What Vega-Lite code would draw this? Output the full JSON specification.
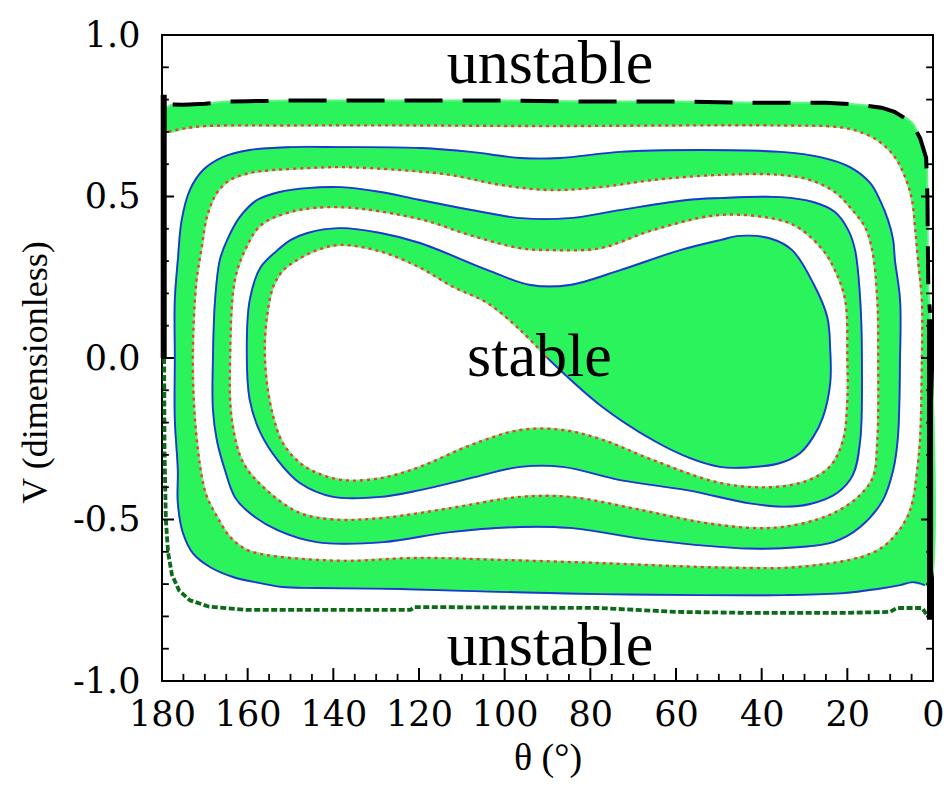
{
"$schema":"https://vega.github.io/schema/vega-lite/v6.json",
"width":771,"height":646,
"autosize":{"type":"none"},
"padding":{"left":162,"top":35,"right":14,"bottom":107},
"config":{"view":{"stroke":"black","strokeWidth":2},"axis":{"domain":false,"grid":false,"ticks":false,"labelColor":"black","titleColor":"black"}},
"datasets":{
"ticks":[
{"ax":"x","major":1,"tick":20},{"ax":"x","major":1,"tick":40},{"ax":"x","major":1,"tick":60},{"ax":"x","major":1,"tick":80},{"ax":"x","major":1,"tick":100},{"ax":"x","major":1,"tick":120},{"ax":"x","major":1,"tick":140},{"ax":"x","major":1,"tick":160},
{"ax":"x","major":0,"tick":5},{"ax":"x","major":0,"tick":10},{"ax":"x","major":0,"tick":15},{"ax":"x","major":0,"tick":25},{"ax":"x","major":0,"tick":30},{"ax":"x","major":0,"tick":35},{"ax":"x","major":0,"tick":45},{"ax":"x","major":0,"tick":50},{"ax":"x","major":0,"tick":55},{"ax":"x","major":0,"tick":65},{"ax":"x","major":0,"tick":70},{"ax":"x","major":0,"tick":75},{"ax":"x","major":0,"tick":85},{"ax":"x","major":0,"tick":90},{"ax":"x","major":0,"tick":95},{"ax":"x","major":0,"tick":105},{"ax":"x","major":0,"tick":110},{"ax":"x","major":0,"tick":115},{"ax":"x","major":0,"tick":125},{"ax":"x","major":0,"tick":130},{"ax":"x","major":0,"tick":135},{"ax":"x","major":0,"tick":145},{"ax":"x","major":0,"tick":150},{"ax":"x","major":0,"tick":155},{"ax":"x","major":0,"tick":165},{"ax":"x","major":0,"tick":170},{"ax":"x","major":0,"tick":175},
{"ax":"y","major":1,"tick":-0.5},{"ax":"y","major":1,"tick":0},{"ax":"y","major":1,"tick":0.5},
{"ax":"y","major":0,"tick":-0.9},{"ax":"y","major":0,"tick":-0.8},{"ax":"y","major":0,"tick":-0.7},{"ax":"y","major":0,"tick":-0.6},{"ax":"y","major":0,"tick":-0.4},{"ax":"y","major":0,"tick":-0.3},{"ax":"y","major":0,"tick":-0.2},{"ax":"y","major":0,"tick":-0.1},{"ax":"y","major":0,"tick":0.1},{"ax":"y","major":0,"tick":0.2},{"ax":"y","major":0,"tick":0.3},{"ax":"y","major":0,"tick":0.4},{"ax":"y","major":0,"tick":0.6},{"ax":"y","major":0,"tick":0.7},{"ax":"y","major":0,"tick":0.8},{"ax":"y","major":0,"tick":0.9}
],
"curves":[
{"s":"edge","k":-1,"t":179.5,"v":0.77},
{"s":"top","k":0,"t":177.5,"v":0.785},{"s":"top","k":1,"t":175,"v":0.784},{"s":"top","k":2,"t":170,"v":0.787},{"s":"top","k":3,"t":165,"v":0.794},{"s":"top","k":4,"t":160,"v":0.795},{"s":"top","k":5,"t":150,"v":0.797},{"s":"top","k":6,"t":140,"v":0.797},{"s":"top","k":7,"t":120,"v":0.797},{"s":"top","k":8,"t":100,"v":0.797},{"s":"top","k":9,"t":80,"v":0.794},{"s":"top","k":10,"t":60,"v":0.794},{"s":"top","k":11,"t":40,"v":0.79},{"s":"top","k":12,"t":25,"v":0.79},{"s":"top","k":13,"t":18,"v":0.785},{"s":"top","k":14,"t":12,"v":0.775},{"s":"top","k":15,"t":9,"v":0.762},{"s":"top","k":16,"t":5,"v":0.73},{"s":"top","k":17,"t":3,"v":0.68},{"s":"top","k":18,"t":1.6,"v":0.62},{"s":"top","k":19,"t":1.3,"v":0.5},{"s":"top","k":20,"t":1.2,"v":0.35},{"s":"top","k":21,"t":1.1,"v":0.22},{"s":"top","k":22,"t":0.7,"v":0.14},
{"s":"edge","k":999,"t":0.7,"v":-0.7},
{"s":"B","k":1000,"t":1.9,"v":-0.703},{"s":"B","k":1001,"t":4.7,"v":-0.694},{"s":"B","k":1002,"t":7.7,"v":-0.703},{"s":"B","k":1003,"t":13,"v":-0.715},{"s":"B","k":1004,"t":21,"v":-0.728},{"s":"B","k":1005,"t":35,"v":-0.734},{"s":"B","k":1006,"t":54.4,"v":-0.734},{"s":"B","k":1007,"t":77.7,"v":-0.731},{"s":"B","k":1008,"t":101,"v":-0.724},{"s":"B","k":1009,"t":124.4,"v":-0.715},{"s":"B","k":1010,"t":143.8,"v":-0.712},{"s":"B","k":1011,"t":151.8,"v":-0.709},{"s":"B","k":1012,"t":157.1,"v":-0.697},{"s":"B","k":1013,"t":163.4,"v":-0.678},{"s":"B","k":1014,"t":168.8,"v":-0.647},{"s":"B","k":1015,"t":172.8,"v":-0.604},{"s":"B","k":1016,"t":175.1,"v":-0.542},{"s":"B","k":1017,"t":176.3,"v":-0.449},{"s":"B","k":1018,"t":176.3,"v":-0.347},{"s":"B","k":1019,"t":177,"v":-0.19},{"s":"B","k":1020,"t":177,"v":0},{"s":"B","k":1021,"t":177,"v":0.18},{"s":"B","k":1022,"t":176.3,"v":0.303},{"s":"B","k":1023,"t":175.4,"v":0.427},{"s":"B","k":1024,"t":173.5,"v":0.52},{"s":"B","k":1025,"t":170.4,"v":0.582},{"s":"B","k":1026,"t":165.8,"v":0.622},{"s":"B","k":1027,"t":159.5,"v":0.644},{"s":"B","k":1028,"t":150,"v":0.653},{"s":"B","k":1029,"t":138.5,"v":0.653},{"s":"B","k":1030,"t":119.8,"v":0.65},{"s":"B","k":1031,"t":108,"v":0.638},{"s":"B","k":1032,"t":96.4,"v":0.619},{"s":"B","k":1033,"t":87,"v":0.619},{"s":"B","k":1034,"t":73,"v":0.638},{"s":"B","k":1035,"t":54.4,"v":0.644},{"s":"B","k":1036,"t":35.7,"v":0.638},{"s":"B","k":1037,"t":26.4,"v":0.622},{"s":"B","k":1038,"t":19.4,"v":0.591},{"s":"B","k":1039,"t":14.7,"v":0.542},{"s":"B","k":1040,"t":12.4,"v":0.489},{"s":"B","k":1041,"t":10.5,"v":0.427},{"s":"B","k":1042,"t":9.3,"v":0.365},{"s":"B","k":1043,"t":8.9,"v":0.303},{"s":"B","k":1044,"t":7.7,"v":0.18},{"s":"B","k":1045,"t":7.7,"v":0},{"s":"B","k":1046,"t":8.2,"v":-0.245},{"s":"B","k":1047,"t":9.3,"v":-0.347},{"s":"B","k":1048,"t":11.7,"v":-0.44},{"s":"B","k":1049,"t":17,"v":-0.523},{"s":"B","k":1050,"t":23.3,"v":-0.57},{"s":"B","k":1051,"t":31,"v":-0.585},{"s":"B","k":1052,"t":42.7,"v":-0.59},{"s":"B","k":1053,"t":66,"v":-0.563},{"s":"B","k":1054,"t":84.8,"v":-0.526},{"s":"B","k":1055,"t":96.4,"v":-0.523},{"s":"B","k":1056,"t":112.8,"v":-0.539},{"s":"B","k":1057,"t":128.4,"v":-0.57},{"s":"B","k":1058,"t":143.8,"v":-0.57},{"s":"B","k":1059,"t":153,"v":-0.533},{"s":"B","k":1060,"t":159.5,"v":-0.48},{"s":"B","k":1061,"t":163,"v":-0.43},{"s":"B","k":1062,"t":165.3,"v":-0.347},{"s":"B","k":1063,"t":167.2,"v":-0.254},{"s":"B","k":1064,"t":168.1,"v":-0.16},{"s":"B","k":1065,"t":168.1,"v":0},{"s":"B","k":1066,"t":167.6,"v":0.18},{"s":"B","k":1067,"t":166.5,"v":0.303},{"s":"B","k":1068,"t":164.8,"v":0.365},{"s":"B","k":1069,"t":161.8,"v":0.437},{"s":"B","k":1070,"t":157.8,"v":0.489},{"s":"B","k":1071,"t":152.5,"v":0.514},{"s":"B","k":1072,"t":146,"v":0.526},{"s":"B","k":1073,"t":138.5,"v":0.529},{"s":"B","k":1074,"t":129,"v":0.514},{"s":"B","k":1075,"t":119.8,"v":0.489},{"s":"B","k":1076,"t":104,"v":0.449},{"s":"B","k":1077,"t":96.4,"v":0.433},{"s":"B","k":1078,"t":84.8,"v":0.433},{"s":"B","k":1079,"t":73,"v":0.458},{"s":"B","k":1080,"t":57.4,"v":0.489},{"s":"B","k":1081,"t":49.7,"v":0.495},{"s":"B","k":1082,"t":35.7,"v":0.498},{"s":"B","k":1083,"t":28,"v":0.483},{"s":"B","k":1084,"t":22.9,"v":0.452},{"s":"B","k":1085,"t":19.8,"v":0.396},{"s":"B","k":1086,"t":18.2,"v":0.334},{"s":"B","k":1087,"t":17,"v":0.18},{"s":"B","k":1088,"t":16.6,"v":0},{"s":"B","k":1089,"t":17,"v":-0.254},{"s":"B","k":1090,"t":18.7,"v":-0.362},{"s":"B","k":1091,"t":22.4,"v":-0.418},{"s":"B","k":1092,"t":28.7,"v":-0.452},{"s":"B","k":1093,"t":35,"v":-0.46},{"s":"B","k":1094,"t":42.7,"v":-0.45},{"s":"B","k":1095,"t":57.4,"v":-0.409},{"s":"B","k":1096,"t":73,"v":-0.378},{"s":"B","k":1097,"t":86.4,"v":-0.337},{"s":"B","k":1098,"t":96.4,"v":-0.337},{"s":"B","k":1099,"t":108,"v":-0.372},{"s":"B","k":1100,"t":119.8,"v":-0.409},{"s":"B","k":1101,"t":129,"v":-0.43},{"s":"B","k":1102,"t":140,"v":-0.43},{"s":"B","k":1103,"t":147.8,"v":-0.387},{"s":"B","k":1104,"t":153,"v":-0.316},{"s":"B","k":1105,"t":157,"v":-0.232},{"s":"B","k":1106,"t":159.5,"v":-0.13},{"s":"B","k":1107,"t":160.2,"v":0.025},{"s":"B","k":1108,"t":159.5,"v":0.18},{"s":"B","k":1109,"t":157,"v":0.28},{"s":"B","k":1110,"t":153,"v":0.334},{"s":"B","k":1111,"t":150,"v":0.365},{"s":"B","k":1112,"t":146,"v":0.387},{"s":"B","k":1113,"t":138.5,"v":0.402},{"s":"B","k":1114,"t":129,"v":0.387},{"s":"B","k":1115,"t":119.8,"v":0.356},{"s":"B","k":1116,"t":104,"v":0.272},{"s":"B","k":1117,"t":94,"v":0.226},{"s":"B","k":1118,"t":84.8,"v":0.226},{"s":"B","k":1119,"t":73,"v":0.272},{"s":"B","k":1120,"t":59,"v":0.334},{"s":"B","k":1121,"t":49.7,"v":0.365},{"s":"B","k":1122,"t":45,"v":0.378},{"s":"B","k":1123,"t":38,"v":0.37},{"s":"B","k":1124,"t":32.9,"v":0.334},{"s":"B","k":1125,"t":28,"v":0.232},{"s":"B","k":1126,"t":24.7,"v":0.127},{"s":"B","k":1127,"t":24,"v":0.025},{"s":"B","k":1128,"t":24,"v":-0.077},{"s":"B","k":1129,"t":25.7,"v":-0.183},{"s":"B","k":1130,"t":28,"v":-0.245},{"s":"B","k":1131,"t":31,"v":-0.294},{"s":"B","k":1132,"t":35.7,"v":-0.325},{"s":"B","k":1133,"t":45,"v":-0.34},{"s":"B","k":1134,"t":49.7,"v":-0.337},{"s":"B","k":1135,"t":56.7,"v":-0.31},{"s":"B","k":1136,"t":65.4,"v":-0.254},{"s":"B","k":1137,"t":77.7,"v":-0.146},{"s":"B","k":1138,"t":90,"v":0},
{"s":"R","k":2000,"t":90,"v":0},{"s":"R","k":2001,"t":96.4,"v":0.087},{"s":"R","k":2002,"t":104,"v":0.17},{"s":"R","k":2003,"t":112,"v":0.22},{"s":"R","k":2004,"t":119.8,"v":0.28},{"s":"R","k":2005,"t":129,"v":0.33},{"s":"R","k":2006,"t":138.5,"v":0.35},{"s":"R","k":2007,"t":143.8,"v":0.334},{"s":"R","k":2008,"t":148.5,"v":0.303},{"s":"R","k":2009,"t":151.8,"v":0.27},{"s":"R","k":2010,"t":154,"v":0.222},{"s":"R","k":2011,"t":155.5,"v":0.127},{"s":"R","k":2012,"t":156,"v":0.025},{"s":"R","k":2013,"t":155.5,"v":-0.077},{"s":"R","k":2014,"t":154,"v":-0.183},{"s":"R","k":2015,"t":151.8,"v":-0.263},{"s":"R","k":2016,"t":147.8,"v":-0.325},{"s":"R","k":2017,"t":143.8,"v":-0.356},{"s":"R","k":2018,"t":137.8,"v":-0.378},{"s":"R","k":2019,"t":129,"v":-0.372},{"s":"R","k":2020,"t":119.8,"v":-0.337},{"s":"R","k":2021,"t":108,"v":-0.27},{"s":"R","k":2022,"t":96.4,"v":-0.223},{"s":"R","k":2023,"t":86.4,"v":-0.223},{"s":"R","k":2024,"t":77,"v":-0.254},{"s":"R","k":2025,"t":65.4,"v":-0.316},{"s":"R","k":2026,"t":49.7,"v":-0.387},{"s":"R","k":2027,"t":38,"v":-0.4},{"s":"R","k":2028,"t":29.4,"v":-0.38},{"s":"R","k":2029,"t":24,"v":-0.335},{"s":"R","k":2030,"t":21,"v":-0.254},{"s":"R","k":2031,"t":20,"v":-0.13},{"s":"R","k":2032,"t":20,"v":0},{"s":"R","k":2033,"t":20.5,"v":0.18},{"s":"R","k":2034,"t":22.9,"v":0.272},{"s":"R","k":2035,"t":25.7,"v":0.334},{"s":"R","k":2036,"t":31,"v":0.4},{"s":"R","k":2037,"t":35.7,"v":0.427},{"s":"R","k":2038,"t":49.7,"v":0.443},{"s":"R","k":2039,"t":65.4,"v":0.396},{"s":"R","k":2040,"t":77.7,"v":0.34},{"s":"R","k":2041,"t":89.4,"v":0.334},{"s":"R","k":2042,"t":96.4,"v":0.34},{"s":"R","k":2043,"t":108,"v":0.38},{"s":"R","k":2044,"t":119.8,"v":0.43},{"s":"R","k":2045,"t":138.5,"v":0.467},{"s":"R","k":2046,"t":150,"v":0.452},{"s":"R","k":2047,"t":157,"v":0.41},{"s":"R","k":2048,"t":160.6,"v":0.334},{"s":"R","k":2049,"t":163,"v":0.24},{"s":"R","k":2050,"t":164.1,"v":0},{"s":"R","k":2051,"t":163.7,"v":-0.19},{"s":"R","k":2052,"t":161,"v":-0.325},{"s":"R","k":2053,"t":155.5,"v":-0.41},{"s":"R","k":2054,"t":147.8,"v":-0.48},{"s":"R","k":2055,"t":140,"v":-0.5},{"s":"R","k":2056,"t":128.4,"v":-0.495},{"s":"R","k":2057,"t":112.8,"v":-0.465},{"s":"R","k":2058,"t":96.4,"v":-0.43},{"s":"R","k":2059,"t":84.8,"v":-0.43},{"s":"R","k":2060,"t":68.4,"v":-0.47},{"s":"R","k":2061,"t":54.4,"v":-0.508},{"s":"R","k":2062,"t":42.7,"v":-0.526},{"s":"R","k":2063,"t":35,"v":-0.523},{"s":"R","k":2064,"t":27,"v":-0.5},{"s":"R","k":2065,"t":21.7,"v":-0.47},{"s":"R","k":2066,"t":17,"v":-0.424},{"s":"R","k":2067,"t":14,"v":-0.368},{"s":"R","k":2068,"t":13,"v":-0.254},{"s":"R","k":2069,"t":12.8,"v":0},{"s":"R","k":2070,"t":13,"v":0.18},{"s":"R","k":2071,"t":14.2,"v":0.334},{"s":"R","k":2072,"t":15.9,"v":0.406},{"s":"R","k":2073,"t":19.4,"v":0.467},{"s":"R","k":2074,"t":22.9,"v":0.514},{"s":"R","k":2075,"t":28.7,"v":0.551},{"s":"R","k":2076,"t":35.7,"v":0.567},{"s":"R","k":2077,"t":49.7,"v":0.567},{"s":"R","k":2078,"t":65.4,"v":0.551},{"s":"R","k":2079,"t":77.7,"v":0.529},{"s":"R","k":2080,"t":89.4,"v":0.52},{"s":"R","k":2081,"t":101,"v":0.536},{"s":"R","k":2082,"t":112.8,"v":0.567},{"s":"R","k":2083,"t":124.4,"v":0.582},{"s":"R","k":2084,"t":138.5,"v":0.591},{"s":"R","k":2085,"t":146,"v":0.588},{"s":"R","k":2086,"t":154,"v":0.582},{"s":"R","k":2087,"t":159.5,"v":0.573},{"s":"R","k":2088,"t":164.1,"v":0.551},{"s":"R","k":2089,"t":167.2,"v":0.511},{"s":"R","k":2090,"t":169.5,"v":0.437},{"s":"R","k":2091,"t":170.7,"v":0.344},{"s":"R","k":2092,"t":172,"v":0.232},{"s":"R","k":2093,"t":172.8,"v":0},{"s":"R","k":2094,"t":172.3,"v":-0.19},{"s":"R","k":2095,"t":170.7,"v":-0.368},{"s":"R","k":2096,"t":169.5,"v":-0.43},{"s":"R","k":2097,"t":167.2,"v":-0.49},{"s":"R","k":2098,"t":164.1,"v":-0.554},{"s":"R","k":2099,"t":160.2,"v":-0.594},{"s":"R","k":2100,"t":155.5,"v":-0.61},{"s":"R","k":2101,"t":150,"v":-0.619},{"s":"R","k":2102,"t":143.8,"v":-0.625},{"s":"R","k":2103,"t":136,"v":-0.628},{"s":"R","k":2104,"t":120.5,"v":-0.619},{"s":"R","k":2105,"t":101,"v":-0.625},{"s":"R","k":2106,"t":77.7,"v":-0.635},{"s":"R","k":2107,"t":54.4,"v":-0.647},{"s":"R","k":2108,"t":42.7,"v":-0.65},{"s":"R","k":2109,"t":35,"v":-0.65},{"s":"R","k":2110,"t":27,"v":-0.641},{"s":"R","k":2111,"t":19.4,"v":-0.625},{"s":"R","k":2112,"t":15.4,"v":-0.61},{"s":"R","k":2113,"t":11.7,"v":-0.585},{"s":"R","k":2114,"t":8.4,"v":-0.542},{"s":"R","k":2115,"t":6,"v":-0.492},{"s":"R","k":2116,"t":4.7,"v":-0.44},{"s":"R","k":2117,"t":3.7,"v":-0.347},{"s":"R","k":2118,"t":3,"v":-0.245},{"s":"R","k":2119,"t":2.6,"v":0},{"s":"R","k":2120,"t":2.6,"v":0.18},{"s":"R","k":2121,"t":3.5,"v":0.303},{"s":"R","k":2122,"t":4.2,"v":0.405},{"s":"R","k":2123,"t":4.9,"v":0.489},{"s":"R","k":2124,"t":6.5,"v":0.56},{"s":"R","k":2125,"t":8.9,"v":0.622},{"s":"R","k":2126,"t":12.4,"v":0.669},{"s":"R","k":2127,"t":17,"v":0.7},{"s":"R","k":2128,"t":22,"v":0.715},{"s":"R","k":2129,"t":35.7,"v":0.72},{"s":"R","k":2130,"t":60,"v":0.72},{"s":"R","k":2131,"t":90,"v":0.718},{"s":"R","k":2132,"t":120,"v":0.72},{"s":"R","k":2133,"t":150,"v":0.72},{"s":"R","k":2134,"t":170,"v":0.718},{"s":"R","k":2135,"t":175,"v":0.71},{"s":"R","k":2136,"t":178.6,"v":0.7},
{"s":"edge","k":3000,"t":179.5,"v":0.72},
{"s":"gd","k":0,"t":179.5,"v":0},{"s":"gd","k":1,"t":179.4,"v":-0.3},{"s":"gd","k":2,"t":179.1,"v":-0.5},{"s":"gd","k":3,"t":178.6,"v":-0.6},{"s":"gd","k":4,"t":177.7,"v":-0.67},{"s":"gd","k":5,"t":176,"v":-0.72},{"s":"gd","k":6,"t":173.5,"v":-0.75},{"s":"gd","k":7,"t":169,"v":-0.77},{"s":"gd","k":8,"t":160,"v":-0.78},{"s":"gd","k":9,"t":122,"v":-0.78},{"s":"gd","k":10,"t":121,"v":-0.771},{"s":"gd","k":11,"t":78,"v":-0.774},{"s":"gd","k":12,"t":60,"v":-0.786},{"s":"gd","k":13,"t":44,"v":-0.789},{"s":"gd","k":14,"t":20,"v":-0.789},{"s":"gd","k":15,"t":10,"v":-0.786},{"s":"gd","k":16,"t":8.5,"v":-0.774},{"s":"gd","k":17,"t":2.5,"v":-0.774},{"s":"gd","k":18,"t":1.2,"v":-0.8},
{"s":"barL","k":0,"t":179.6,"v":0.815},{"s":"barL","k":1,"t":179.6,"v":0},
{"s":"barR","k":0,"t":0.7,"v":0.12},{"s":"barR","k":1,"t":0.7,"v":-0.81},
{"s":"lab","k":0,"t":89.4,"v":0.851,"lab":"unstable"},
{"s":"lab","k":1,"t":89.4,"v":-0.95,"lab":"unstable"},
{"s":"lab","k":2,"t":91.9,"v":-0.056,"lab":"stable"}
]},
"layer":[
{"data":{"name":"curves"},"transform":[{"filter":{"field":"s","oneOf":["top","edge","B","R"]}}],
 "mark":{"type":"line","fill":"#2bf35c","stroke":"#5ef582","strokeWidth":2,"interpolate":"catmull-rom"},
 "encoding":{
  "x":{"field":"t","type":"quantitative","scale":{"domain":[0,180],"reverse":true,"nice":false,"zero":false},
   "axis":{"orient":"bottom","values":[0,20,40,60,80,100,120,140,160,180],"format":"d","labelPadding":16,"labelFlush":false,"labelOverlap":false,"labelFont":"DejaVu Serif","labelFontSize":35,"title":"θ (°)","titleFont":"Liberation Serif","titleFontSize":38,"titleFontWeight":"normal","titleX":385.5,"titleY":77,"titleBaseline":"middle","titleAlign":"center"}},
  "y":{"field":"v","type":"quantitative","scale":{"domain":[-1,1],"nice":false,"zero":false},
   "axis":{"orient":"left","values":[-1,-0.5,0,0.5,1],"labelExpr":"replace(format(datum.value,'.1f'),'−','-')","labelPadding":22,"labelFlush":false,"labelOverlap":false,"labelFont":"DejaVu Serif","labelFontSize":35,"title":"V (dimensionless)","titleFont":"Liberation Serif","titleFontSize":36,"titleFontWeight":"normal","titleX":-127,"titleY":337,"titleAngle":270,"titleBaseline":"middle","titleAlign":"center"}},
  "order":{"field":"k","type":"quantitative"}}},
{"data":{"name":"curves"},"transform":[{"filter":{"field":"s","equal":"B"}}],
 "mark":{"type":"line","color":"#1f35d4","strokeWidth":1.9,"interpolate":"catmull-rom"},
 "encoding":{
  "x":{"field":"t","type":"quantitative","axis":null},
  "y":{"field":"v","type":"quantitative","axis":null},
  "order":{"field":"k","type":"quantitative"}}},
{"data":{"name":"curves"},"transform":[{"filter":{"field":"s","equal":"R"}}],
 "mark":{"type":"line","color":"#e2432a","strokeWidth":2.4,"strokeDash":[3,4],"interpolate":"catmull-rom"},
 "encoding":{
  "x":{"field":"t","type":"quantitative","axis":null},
  "y":{"field":"v","type":"quantitative","axis":null},
  "order":{"field":"k","type":"quantitative"}}},
{"data":{"name":"curves"},"transform":[{"filter":{"field":"s","equal":"top"}}],
 "mark":{"type":"line","color":"black","strokeWidth":4,"strokeDash":[38,20]},
 "encoding":{
  "x":{"field":"t","type":"quantitative","axis":null},
  "y":{"field":"v","type":"quantitative","axis":null},
  "order":{"field":"k","type":"quantitative"}}},
{"data":{"name":"curves"},"transform":[{"filter":{"field":"s","equal":"gd"}}],
 "mark":{"type":"line","color":"#0b6b18","strokeWidth":3.8,"strokeDash":[6,2.5]},
 "encoding":{
  "x":{"field":"t","type":"quantitative","axis":null},
  "y":{"field":"v","type":"quantitative","axis":null},
  "order":{"field":"k","type":"quantitative"}}},
{"data":{"name":"curves"},"transform":[{"filter":{"field":"s","oneOf":["barL","barR"]}}],
 "mark":{"type":"line","color":"black","strokeWidth":6,"strokeCap":"butt"},
 "encoding":{
  "x":{"field":"t","type":"quantitative","axis":null},
  "y":{"field":"v","type":"quantitative","axis":null},
  "detail":{"field":"s"},
  "order":{"field":"k","type":"quantitative"}}},
{"data":{"name":"curves"},"transform":[{"filter":{"field":"s","equal":"lab"}}],
 "mark":{"type":"text","font":"Liberation Serif","fontSize":62,"color":"black","align":"center","baseline":"alphabetic"},
 "encoding":{
  "x":{"field":"t","type":"quantitative","axis":null},
  "y":{"field":"v","type":"quantitative","axis":null},
  "text":{"field":"lab"}}},
{"data":{"name":"ticks"},"transform":[{"filter":"datum.ax=='x' && datum.major==1"}],
 "mark":{"type":"rule","color":"#000000","strokeWidth":2},
 "encoding":{"x":{"field":"tick","type":"quantitative","axis":null},"y":{"datum":-1,"type":"quantitative","axis":null},"y2":{"datum":-0.96}}},
{"data":{"name":"ticks"},"transform":[{"filter":"datum.ax=='x' && datum.major==0"}],
 "mark":{"type":"rule","color":"#000000","strokeWidth":1.8},
 "encoding":{"x":{"field":"tick","type":"quantitative","axis":null},"y":{"datum":-1,"type":"quantitative","axis":null},"y2":{"datum":-0.978}}},
{"data":{"name":"ticks"},"transform":[{"filter":"datum.ax=='y' && datum.major==1"}],
 "mark":{"type":"rule","color":"#000000","strokeWidth":2},
 "encoding":{"y":{"field":"tick","type":"quantitative","axis":null},"x":{"datum":180,"type":"quantitative","axis":null},"x2":{"datum":177.2}}},
{"data":{"name":"ticks"},"transform":[{"filter":"datum.ax=='y' && datum.major==0"}],
 "mark":{"type":"rule","color":"#000000","strokeWidth":1.8},
 "encoding":{"y":{"field":"tick","type":"quantitative","axis":null},"x":{"datum":180,"type":"quantitative","axis":null},"x2":{"datum":178.4}}},
{"data":{"name":"ticks"},"transform":[{"filter":"datum.ax=='y' && datum.major==1"}],
 "mark":{"type":"rule","color":"#000000","strokeWidth":2},
 "encoding":{"y":{"field":"tick","type":"quantitative","axis":null},"x":{"datum":0,"type":"quantitative","axis":null},"x2":{"datum":2.8}}},
{"data":{"name":"ticks"},"transform":[{"filter":"datum.ax=='y' && datum.major==0"}],
 "mark":{"type":"rule","color":"#000000","strokeWidth":1.8},
 "encoding":{"y":{"field":"tick","type":"quantitative","axis":null},"x":{"datum":0,"type":"quantitative","axis":null},"x2":{"datum":1.6}}}
],
"resolve":{"axis":{"x":"independent","y":"independent"}}
}
